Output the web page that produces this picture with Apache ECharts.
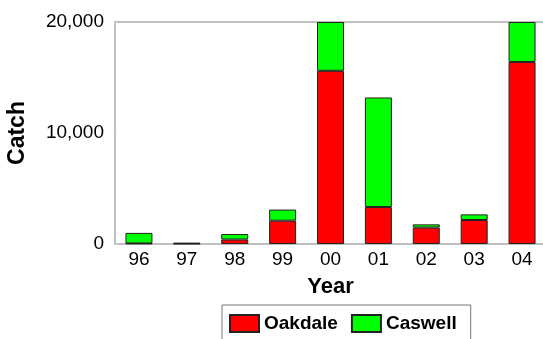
<!DOCTYPE html>
<html>
<head>
<meta charset="utf-8">
<script src="https://cdn.jsdelivr.net/npm/echarts@6/dist/echarts.min.js"></script>
<style>
html, body { margin: 0; padding: 0; background: #fff; }
#chart { width: 543px; height: 339px; }
</style>
</head>
<body>
<div id="chart"></div>
<script>
// years and catch per site
var years = ['96', '97', '98', '99', '00', '01', '02', '03', '04'];
var oakdale = [50, 30, 400, 2100, 15600, 3330, 1480, 2160, 16400];
var caswell = [950, 70, 500, 1000, 4400, 9870, 290, 510, 3600];
var yTicks = [0, 10000, 20000];

var fnt = 'Liberation Sans, Arial, sans-serif';

function fmt(v) {
	return String(v).replace(/\B(?=(\d{3})+(?!\d))/g, ',');
}

var chart = echarts.init(document.getElementById('chart'));
chart.setOption({
	animation: false,
	backgroundColor: '#fff',
	grid: { left: 115, top: 22, width: 431, bottom: 95, containLabel: false, outerBoundsMode: 'none' },
	legend: {
		left: 222, top: 305,
		itemWidth: 29, itemHeight: 17, itemGap: 13,
		padding: [9, 14, 12, 7],
		borderColor: '#777', borderWidth: 1,
		icon: 'rect',
		textStyle: { fontFamily: fnt, fontSize: 19, fontWeight: 'bold', color: '#000' },
		data: ['Oakdale', 'Caswell']
	},
	xAxis: [{
		type: 'category',
		data: years,
		name: 'Year',
		nameLocation: 'middle',
		nameGap: 32,
		nameTextStyle: { fontFamily: fnt, fontSize: 22, fontWeight: 'bold', color: '#000' },
		axisLine: { lineStyle: { color: '#aaa', width: 1.5 } },
		axisTick: { show: false },
		axisLabel: { fontFamily: fnt, fontSize: 19, color: '#000', margin: 6 }
	}, {
		type: 'category',
		data: years,
		position: 'top',
		axisLine: { lineStyle: { color: '#aaa', width: 1.5 } },
		axisTick: { show: false },
		axisLabel: { show: false }
	}],
	yAxis: {
		type: 'value',
		min: yTicks[0], max: yTicks[yTicks.length - 1], interval: 10000,
		name: 'Catch',
		nameLocation: 'middle',
		nameGap: 86,
		nameTextStyle: { fontFamily: fnt, fontSize: 23, fontWeight: 'bold', color: '#000' },
		axisLine: { show: true, lineStyle: { color: '#aaa', width: 1.5 } },
		axisTick: { show: true, inside: true, length: 2, lineStyle: { color: '#ddd' } },
		splitLine: { show: false },
		axisLabel: { fontFamily: fnt, fontSize: 19, color: '#000', margin: 11, formatter: fmt }
	},
	series: [{
		name: 'Oakdale', type: 'bar', stack: 'c', data: oakdale, barWidth: 27,
		itemStyle: { color: '#ff0000', borderColor: '#222', borderWidth: 1 }
	}, {
		name: 'Caswell', type: 'bar', stack: 'c', data: caswell, barWidth: 27,
		itemStyle: { color: '#00ff00', borderColor: '#222', borderWidth: 1 }
	}]
});
</script>
</body>
</html>
